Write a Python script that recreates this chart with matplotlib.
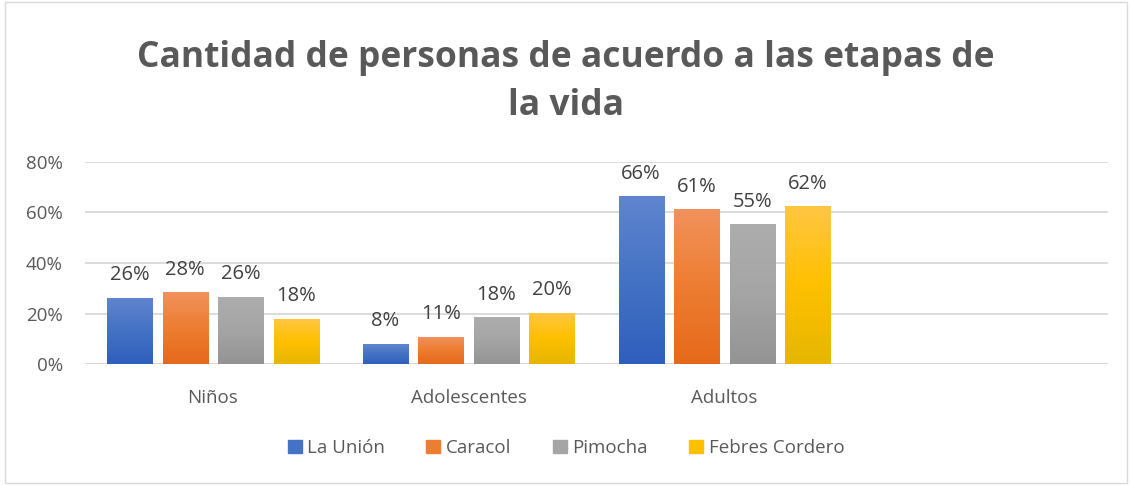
import matplotlib
matplotlib.use("Agg")
import matplotlib.pyplot as plt
import numpy as np
from matplotlib.colors import LinearSegmentedColormap
from matplotlib.patches import Rectangle

categories = ["Niños", "Adolescentes", "Adultos", ""]
series = ["La Unión", "Caracol", "Pimocha", "Febres Cordero"]
la_union = [0.263, 0.079, 0.664, np.nan]
caracol = [0.284, 0.107, 0.613, np.nan]
pimocha = [0.265, 0.185, 0.553, np.nan]
febres = [0.178, 0.202, 0.624, np.nan]
yticks = [0, 0.2, 0.4, 0.6, 0.8]
ytick_labels = ["0%", "20%", "40%", "60%", "80%"]

values = [la_union, caracol, pimocha, febres]
top_colors = ["#6085CF", "#F1925C", "#ADADAD", "#FFC643"]
bot_colors = ["#2F5FBD", "#E6691B", "#939393", "#E6B600"]
mid_colors = ["#4472C4", "#ED7D31", "#A5A5A5", "#FFC000"]

plt.rcParams['font.family'] = ['Open Sans', 'DejaVu Sans']
fig = plt.figure(figsize=(11.32, 4.86), dpi=100)
fig.patches.append(Rectangle((0.004, 0.006), 0.992, 0.99, transform=fig.transFigure,
                             fill=False, edgecolor="#D9D9D9", linewidth=1))
ax = fig.add_axes([0.0751, 0.251, 0.9037, 0.4157])

x = np.arange(len(categories))
width = 0.176
step = 0.217
text_color = "#595959"
for i, (vals, name) in enumerate(zip(values, series)):
    off = (i - 1.5) * step
    bars = ax.bar(x + off, vals, width, color=mid_colors[i], label=name, zorder=3)
    cmap = LinearSegmentedColormap.from_list("g%d" % i, [bot_colors[i], mid_colors[i], top_colors[i]])
    grad = np.linspace(0, 1, 256).reshape(-1, 1)
    for b, v in zip(bars, vals):
        if np.isnan(v):
            continue
        im = ax.imshow(grad, cmap=cmap, aspect="auto", origin="lower",
                       extent=[b.get_x(), b.get_x() + b.get_width(), 0, v], zorder=4)
        im.set_clip_path(b)
        ax.text(b.get_x() + b.get_width() / 2, v + 0.05, "%d%%" % round(v * 100),
                ha="center", va="bottom", fontsize=14.5, color="#404040", zorder=5)

ax.set_xlim(-0.5, len(categories) - 0.5)
ax.set_ylim(0, 0.8)
ax.set_yticks(yticks)
ax.set_yticklabels(ytick_labels, fontsize=13.5, color=text_color)
ax.set_xticks(x[:3])
ax.set_xticklabels(categories[:3], fontsize=13.5, color=text_color)
ax.tick_params(axis="both", length=0)
ax.tick_params(axis="x", pad=18)
ax.tick_params(axis="y", pad=16)
for s in ax.spines.values():
    s.set_visible(False)
ax.grid(axis="y", color="#D9D9D9", linewidth=1.3, zorder=0)
ax.axhline(0, color="#D9D9D9", linewidth=1.3, zorder=1)
ax.set_facecolor("none")

fig.text(0.5, 0.832, "Cantidad de personas de acuerdo a las etapas de\nla vida",
         ha="center", va="center", fontsize=25.5, fontweight="bold", color=text_color,
         linespacing=1.45)

handles = [Rectangle((0, 0), 1, 1, color=mid_colors[i]) for i in range(4)]
fig.legend(handles, series, loc="center", bbox_to_anchor=(0.5, 0.078), ncol=4,
           frameon=False, fontsize=13.5, labelcolor=text_color,
           handlelength=0.75, handleheight=0.75, handletextpad=0.3, columnspacing=2.2)

fig.savefig("out.png", dpi=100, facecolor="white")
